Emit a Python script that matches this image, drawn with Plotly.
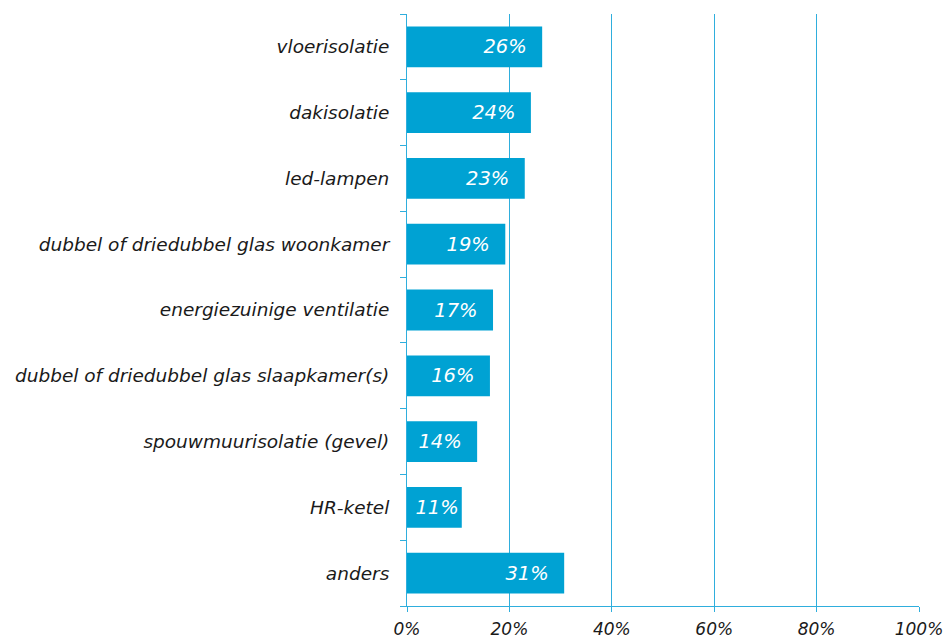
import plotly.graph_objects as go

categories = [
    "vloerisolatie",
    "dakisolatie",
    "led-lampen",
    "dubbel of driedubbel glas woonkamer",
    "energiezuinige ventilatie",
    "dubbel of driedubbel glas slaapkamer(s)",
    "spouwmuurisolatie (gevel)",
    "HR-ketel",
    "anders",
]
values = [26.4, 24.2, 23.0, 19.2, 16.8, 16.2, 13.7, 10.7, 30.7]
tick_vals = [0, 20, 40, 60, 80, 100]
tick_text = ["0%", "20%", "40%", "60%", "80%", "100%"]

BLUE = "#00A2D3"
LINE = "#2FAEDD"
FONT = "DejaVu Sans"


def bar_label(v):
    # small bars get no extra right padding so the label still fits
    pad = "\u00a0\u00a0" if v >= 12 else ""
    return f"<i>{round(v):.0f}%</i>{pad}"


fig = go.Figure(
    go.Bar(
        x=values,
        y=categories,
        orientation="h",
        marker_color=BLUE,
        marker_line_width=0,
        text=[bar_label(v) for v in values],
        textposition="inside",
        insidetextanchor="end",
        textfont=dict(family=FONT, size=19.5, color="white"),
        width=0.62,
    )
)

fig.update_layout(
    width=950,
    height=639,
    margin={"l": 407, "r": 31, "t": 14, "b": 33},
    paper_bgcolor="white",
    plot_bgcolor="white",
    showlegend=False,
    font=dict(family=FONT, size=18, color="#1a1a1a"),
)
fig.update_xaxes(
    range=[0, 100],
    tickvals=tick_vals,
    ticktext=[f"<i>{t}</i>" for t in tick_text],
    showgrid=True,
    gridcolor=LINE,
    gridwidth=1,
    showline=True,
    linecolor=LINE,
    linewidth=1,
    ticks="outside",
    ticklen=5,
    tickcolor=LINE,
    ticklabelstandoff=3,
    zeroline=False,
    automargin=False,
    tickfont=dict(family=FONT, size=17, color="#1a1a1a"),
)
fig.update_yaxes(
    categoryorder="array",
    categoryarray=categories,
    range=[8.5, -0.5],
    tickvals=categories,
    ticktext=[f"<i>{c}</i>" for c in categories],
    showline=True,
    linecolor=LINE,
    linewidth=1,
    ticks="outside",
    tickson="boundaries",
    ticklen=6,
    tickcolor=LINE,
    ticklabelstandoff=13,
    showgrid=False,
    automargin=False,
    tickfont=dict(family=FONT, size=18.5, color="#1a1a1a"),
)

# drop the browser's default body margin so the figure fills the window
fig.write_html(
    "out.html",
    config={"displayModeBar": False},
    post_script="document.body.style.margin='0';document.body.style.overflow='hidden';",
)
